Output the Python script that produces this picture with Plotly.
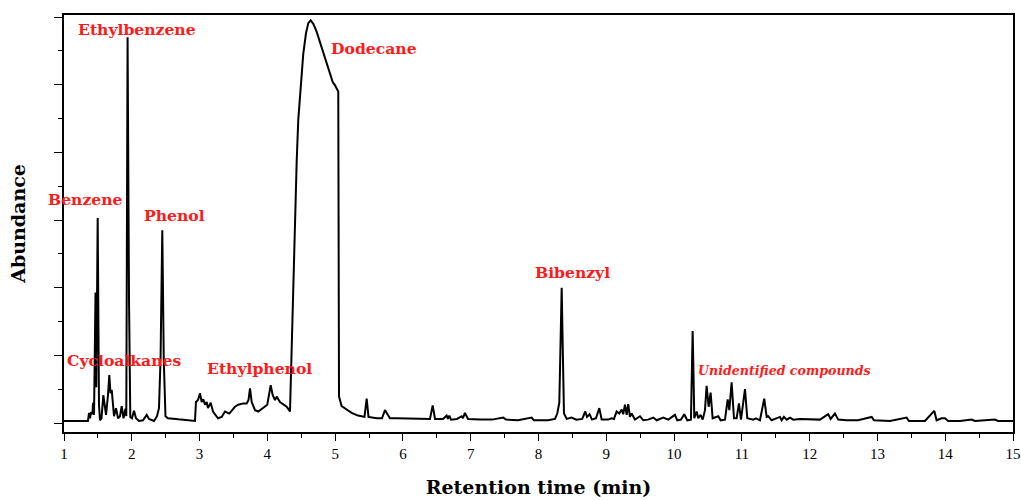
import plotly.graph_objects as go

# Retention time (min) and abundance (arbitrary units)
time_min = [
    1.000, 1.236, 1.354, 1.369, 1.384, 1.398, 1.420, 1.428, 1.443, 1.465, 1.476, 1.497,
    1.516, 1.531, 1.553, 1.580, 1.605, 1.620, 1.649, 1.668, 1.686, 1.704, 1.723, 1.738,
    1.767, 1.797, 1.826, 1.851, 1.878, 1.907, 1.919, 1.938, 1.959, 1.978, 2.003, 2.033,
    2.062, 2.106, 2.165, 2.220, 2.254, 2.328, 2.372, 2.401, 2.424, 2.450, 2.472, 2.497,
    2.534, 2.593, 2.652, 2.726, 2.800, 2.888, 2.932, 2.947, 2.977, 3.006, 3.031, 3.055,
    3.080, 3.105, 3.124, 3.164, 3.198, 3.272, 3.326, 3.375, 3.438, 3.522, 3.571, 3.645,
    3.695, 3.722, 3.744, 3.769, 3.818, 3.866, 3.940, 3.999, 4.049, 4.079, 4.113, 4.138,
    4.186, 4.285, 4.334, 4.359, 4.383, 4.408, 4.433, 4.456, 4.492, 4.530, 4.570, 4.604,
    4.639, 4.678, 4.728, 4.776, 4.825, 4.875, 4.924, 4.964, 4.998, 5.032, 5.046, 5.057,
    5.096, 5.170, 5.244, 5.337, 5.433, 5.465, 5.492, 5.613, 5.691, 5.735, 5.769, 5.809,
    5.912, 6.030, 6.148, 6.281, 6.399, 6.439, 6.473, 6.591, 6.645, 6.664, 6.684, 6.709,
    6.797, 6.867, 6.886, 6.915, 6.960, 7.137, 7.314, 7.480, 7.520, 7.697, 7.899, 7.933,
    8.140, 8.243, 8.277, 8.307, 8.324, 8.342, 8.361, 8.376, 8.416, 8.489, 8.557, 8.645,
    8.690, 8.715, 8.753, 8.789, 8.848, 8.897, 8.932, 9.026, 9.079, 9.113, 9.153, 9.191,
    9.227, 9.250, 9.276, 9.301, 9.324, 9.349, 9.375, 9.423, 9.497, 9.546, 9.615, 9.694,
    9.744, 9.840, 9.914, 10.013, 10.047, 10.102, 10.150, 10.195, 10.249, 10.264, 10.274,
    10.286, 10.298, 10.333, 10.357, 10.392, 10.422, 10.456, 10.480, 10.510, 10.539,
    10.569, 10.652, 10.687, 10.751, 10.791, 10.815, 10.849, 10.884, 10.923, 10.957,
    10.987, 11.046, 11.080, 11.168, 11.208, 11.267, 11.330, 11.366, 11.389, 11.439,
    11.562, 11.587, 11.621, 11.661, 11.710, 11.758, 11.857, 12.004, 12.152, 12.274,
    12.310, 12.373, 12.422, 12.546, 12.713, 12.915, 12.949, 13.185, 13.431, 13.465,
    13.701, 13.838, 13.873, 13.947, 13.996, 14.045, 14.217, 14.390, 14.439, 14.734,
    14.778, 15.000,
]
abundance = [
    0.03, 0.03, 0.03, 0.15, 0.07, 0.16, 0.13, 0.30, 0.12, 1.93, 0.53, 3.03,
    0.27, 0.04, 0.07, 0.41, 0.16, 0.12, 0.41, 0.71, 0.44, 0.49, 0.27, 0.10,
    0.22, 0.07, 0.10, 0.25, 0.07, 0.21, 0.10, 5.70, 1.82, 0.09, 0.07, 0.18,
    0.07, 0.03, 0.04, 0.12, 0.06, 0.03, 0.10, 0.22, 0.93, 2.85, 0.93, 0.10,
    0.07, 0.07, 0.06, 0.05, 0.04, 0.03, 0.03, 0.31, 0.34, 0.44, 0.31, 0.35,
    0.27, 0.31, 0.22, 0.30, 0.17, 0.07, 0.09, 0.17, 0.14, 0.24, 0.27, 0.29,
    0.29, 0.34, 0.51, 0.31, 0.19, 0.17, 0.22, 0.27, 0.56, 0.41, 0.34, 0.39,
    0.31, 0.24, 0.17, 1.18, 2.16, 3.15, 3.88, 4.48, 5.02, 5.46, 5.76, 5.91,
    5.95, 5.90, 5.78, 5.63, 5.48, 5.34, 5.19, 5.04, 4.99, 4.92, 4.90, 0.39,
    0.25, 0.20, 0.15, 0.11, 0.09, 0.36, 0.09, 0.07, 0.07, 0.19, 0.13, 0.07,
    0.07, 0.07, 0.07, 0.06, 0.06, 0.26, 0.06, 0.06, 0.11, 0.06, 0.11, 0.05,
    0.06, 0.10, 0.07, 0.15, 0.06, 0.05, 0.05, 0.08, 0.05, 0.04, 0.08, 0.04,
    0.04, 0.06, 0.14, 0.30, 1.37, 2.00, 0.93, 0.14, 0.06, 0.08, 0.05, 0.06,
    0.17, 0.09, 0.13, 0.05, 0.07, 0.22, 0.05, 0.05, 0.07, 0.06, 0.17, 0.14,
    0.20, 0.13, 0.27, 0.12, 0.28, 0.09, 0.14, 0.05, 0.10, 0.04, 0.05, 0.08,
    0.04, 0.08, 0.05, 0.12, 0.04, 0.05, 0.13, 0.04, 0.05, 0.78, 1.36,
    0.78, 0.07, 0.17, 0.07, 0.12, 0.05, 0.19, 0.55, 0.24, 0.45,
    0.07, 0.10, 0.04, 0.05, 0.35, 0.19, 0.60, 0.07, 0.07, 0.29,
    0.05, 0.50, 0.07, 0.05, 0.07, 0.04, 0.36, 0.09, 0.10, 0.04,
    0.09, 0.04, 0.09, 0.05, 0.08, 0.05, 0.06, 0.06, 0.05, 0.13,
    0.06, 0.14, 0.05, 0.04, 0.04, 0.09, 0.04, 0.03, 0.08, 0.03,
    0.03, 0.18, 0.04, 0.07, 0.07, 0.03, 0.03, 0.05, 0.03, 0.05,
    0.03, 0.03,
]

# Compound labels (text, time, abundance of label centre)
label_text = ["Ethylbenzene", "Dodecane", "Benzene", "Phenol", "Cycloalkanes",
              "Ethylphenol", "Bibenzyl"]
label_x = [2.084, 5.573, 1.317, 2.637, 1.892, 3.884, 8.501]
label_y = [5.82, 5.54, 3.31, 3.07, 0.92, 0.80, 2.22]

unid_text = "Unidentified compounds"
unid_x = 11.628
unid_y = 0.77

x_ticks = list(range(1, 16))
y_ticks = list(range(0, 7))

fig = go.Figure()
fig.add_trace(go.Scatter(
    x=time_min, y=abundance, mode="lines",
    line=dict(color="black", width=2), showlegend=False, hoverinfo="skip",
))

for txt, x, y in zip(label_text, label_x, label_y):
    fig.add_annotation(x=x, y=y, text="<b>" + txt + "</b>", showarrow=False,
                       xanchor="center", yanchor="middle",
                       font=dict(family="DejaVu Serif", size=15.6, color="#ff1a1a"))
fig.add_annotation(x=unid_x, y=unid_y, text="<b><i>" + unid_text + "</i></b>",
                   showarrow=False, xanchor="center", yanchor="middle",
                   font=dict(family="DejaVu Serif", size=12.6, color="#ff1a1a"))

fig.update_layout(
    width=1021, height=500,
    margin=dict(l=64, r=8, t=15, b=68),
    paper_bgcolor="white", plot_bgcolor="white",
    font=dict(family="Liberation Serif", color="black"),
)
fig.update_xaxes(
    range=[1, 15], tickvals=x_ticks, ticktext=[str(v) for v in x_ticks],
    ticks="outside", ticklen=7, tickwidth=1.2, tickcolor="black",
    minor=dict(dtick=0.5, tick0=1, ticks="outside", ticklen=4, tickwidth=1.2, tickcolor="black"),
    showline=True, linecolor="black", linewidth=1.5, mirror=True,
    showgrid=False, zeroline=False, automargin=False,
    tickfont=dict(family="Liberation Serif", size=15, color="black"),
    title=dict(text="<b>Retention time (min)</b>", standoff=20,
               font=dict(family="DejaVu Serif", size=19, color="black")),
)
fig.update_yaxes(
    range=[-0.133, 6.03], tickvals=y_ticks, showticklabels=False,
    ticks="outside", ticklen=8, tickwidth=1.2, tickcolor="black",
    minor=dict(dtick=0.5, tick0=0, ticks="outside", ticklen=4, tickwidth=1.2, tickcolor="black"),
    showline=True, linecolor="black", linewidth=1.5, mirror=True,
    showgrid=False, zeroline=False, automargin=False,
    title=dict(text="<b>Abundance</b>", standoff=24,
               font=dict(family="DejaVu Serif", size=19, color="black")),
)

fig.write_html("out.html")
